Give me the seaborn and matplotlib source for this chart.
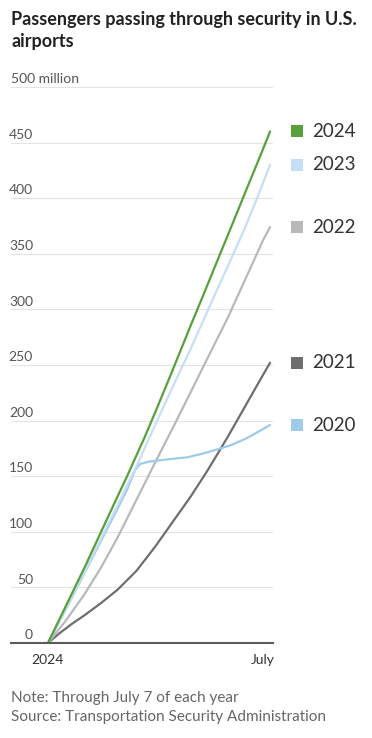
import matplotlib.pyplot as plt
import seaborn as sns
import pandas as pd

# cumulative passengers screened, millions, by day of year
days_2024 = [0, 15, 31, 45, 59, 67, 75, 81, 91, 105, 121, 130, 145, 152, 165, 182, 188]
vals_2024 = [0, 33, 68, 100, 132, 150, 169, 183, 208, 244, 286, 309, 348, 366, 400, 444, 460]
days_2023 = [0, 15, 31, 45, 59, 75, 86, 105, 121, 134, 145, 157, 167, 177, 188]
vals_2023 = [0, 31, 64, 94, 124, 159, 185, 229, 265, 296, 322, 350, 374, 400, 430]
days_2022 = [0, 15, 31, 45, 59, 75, 84, 91, 105, 121, 135, 152, 167, 182, 188]
vals_2022 = [0, 20, 44, 68, 95, 129, 148, 163, 192, 226, 256, 292, 327, 362, 374]
days_2021 = [0, 10, 20, 31, 45, 59, 75, 91, 105, 121, 135, 152, 167, 182, 188]
vals_2021 = [0, 9, 17, 25, 36, 48, 65, 87, 108, 132, 155, 185, 213, 241, 252]
days_2020 = [0, 15, 31, 45, 59, 67, 74, 78, 85, 100, 118, 130, 143, 155, 168, 178, 188]
vals_2020 = [0, 30, 63, 92, 121, 138, 156, 161, 163, 165, 167, 170, 174, 178, 184, 190, 196]

years = ['2024', '2023', '2022', '2021', '2020']
colors = {'2024': '#58a03c', '2023': '#c6dff4', '2022': '#b9b9b9',
          '2021': '#6e6e6e', '2020': '#9dcbea'}
month_ticks = [0, 31, 60, 91, 121, 152, 182]
month_labels = ['2024', '', '', '', '', '', 'July']
y_ticks = [0, 50, 100, 150, 200, 250, 300, 350, 400, 450, 500]

series = {'2024': (days_2024, vals_2024), '2023': (days_2023, vals_2023),
          '2022': (days_2022, vals_2022), '2021': (days_2021, vals_2021),
          '2020': (days_2020, vals_2020)}
rows = []
for yr in years:
    for d, v in zip(*series[yr]):
        rows.append({'day': d, 'passengers': v, 'year': yr})
df = pd.DataFrame(rows)

sns.set_style('white')
plt.rcParams['font.family'] = 'Lato'

W, H = 372, 738
fig = plt.figure(figsize=(W / 100, H / 100), dpi=100)
ax = fig.add_axes([11 / W, 95 / H, 262 / W, 556 / H])

sns.lineplot(data=df, x='day', y='passengers', hue='year',
             hue_order=['2021', '2022', '2020', '2023', '2024'],
             palette=colors, estimator=None, sort=True, linewidth=1.6,
             legend=False, ax=ax)

ax.set_xlim(-31.3, 190.5)
ax.set_ylim(0, 500)
ax.set_xlabel('')
ax.set_ylabel('')

# gridlines
ax.set_yticks(y_ticks)
ax.yaxis.grid(True, color='#e3e3e3', linewidth=0.8)
ax.set_axisbelow(True)
ax.tick_params(axis='y', length=0, labelleft=False)

# y labels sit above the gridlines
tr = ax.get_yaxis_transform()
for v in y_ticks:
    if v == 500:
        ax.text(0, v + 3.5, '500 million', transform=tr, ha='left',
                va='baseline', fontsize=10, color='#555555')
    else:
        ax.text(22 / 262, v + 3.5, str(v), transform=tr, ha='right',
                va='baseline', fontsize=10, color='#555555')

# x axis
for s in ['top', 'right', 'left']:
    ax.spines[s].set_visible(False)
ax.spines['bottom'].set_color('#5a5a5a')
ax.spines['bottom'].set_linewidth(1.5)
ax.set_xticks(month_ticks)
ax.set_xticklabels(month_labels)
ax.tick_params(axis='x', length=4, width=1, color='#5a5a5a', pad=4,
               labelsize=10, labelcolor='#333333')

# end labels
for yr in years:
    last = series[yr][1][-1]
    ax.scatter([210.8], [last], marker='s', s=80, color=colors[yr],
               clip_on=False, linewidths=0)
    ax.text(223.5, last, yr, ha='left', va='center', fontsize=13.5,
            color='#333333', clip_on=False)

fig.text(11 / W, 1 - 25 / H, 'Passengers passing through security in U.S.',
         ha='left', va='baseline', fontsize=13, fontweight='bold', color='#222222')
fig.text(11 / W, 1 - 47 / H, 'airports',
         ha='left', va='baseline', fontsize=13, fontweight='bold', color='#222222')

fig.text(11 / W, 1 - 702 / H, 'Note: Through July 7 of each year',
         ha='left', va='baseline', fontsize=11, color='#666666')
fig.text(11 / W, 1 - 721 / H, 'Source: Transportation Security Administration',
         ha='left', va='baseline', fontsize=11, color='#666666')

fig.savefig('out.png', dpi=100)
